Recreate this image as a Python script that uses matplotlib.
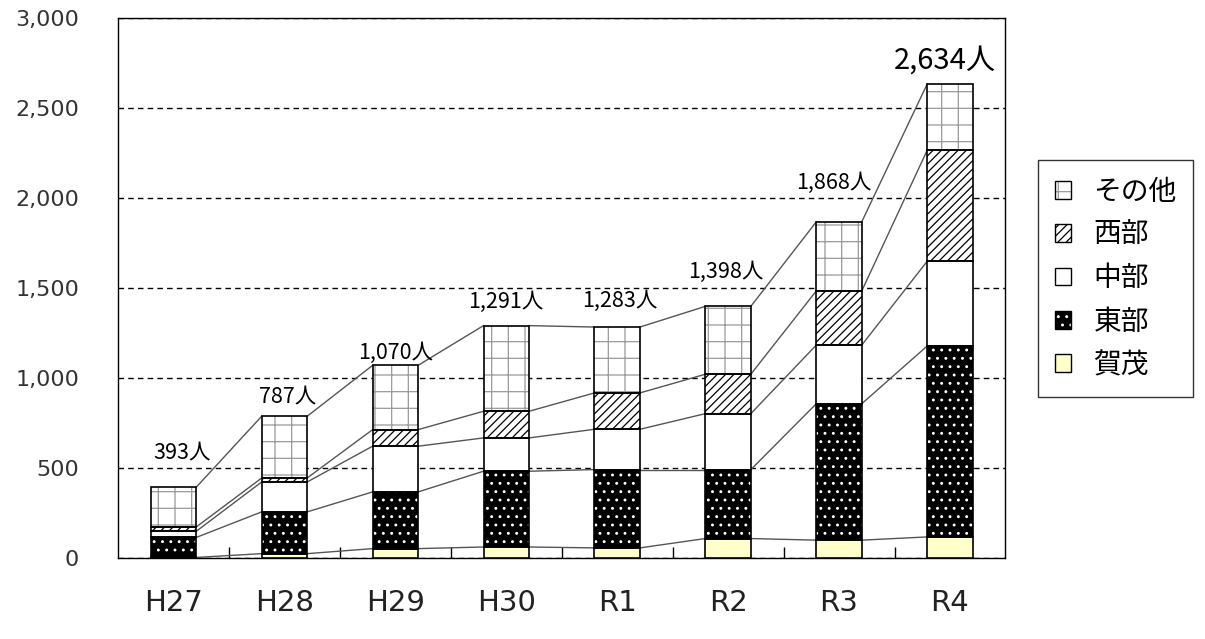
import numpy as np
import matplotlib
matplotlib.use("Agg")
import matplotlib.pyplot as plt
from matplotlib.patches import Patch

plt.rcParams['font.family'] = ['Noto Sans CJK JP', 'DejaVu Sans']
plt.rcParams['hatch.linewidth'] = 0.9

years = ['H27', 'H28', 'H29', 'H30', 'R1', 'R2', 'R3', 'R4']
kamo = [3, 24, 52, 61, 56, 108, 99, 117]
tobu = [111, 232, 315, 421, 435, 383, 758, 1061]
chubu = [34, 166, 254, 185, 224, 311, 326, 471]
seibu = [24, 22, 92, 148, 202, 219, 301, 617]
sonota = [221, 343, 357, 476, 366, 377, 384, 368]
totals = [393, 787, 1070, 1291, 1283, 1398, 1868, 2634]

names = ['賀茂', '東部', '中部', '西部', 'その他']
series = [kamo, tobu, chubu, seibu, sonota]
# face colour, hatch, hatch colour
styles = [('#FFFFCC', None, '#FFFFCC'),
          ('black', '..', 'white'),
          ('white', None, 'white'),
          ('white', '////', 'black'),
          ('white', '+', '#9a9a9a')]

# label offsets (points) above the bar tops
lab_dx = [6, 2, 0, 0, 2, -2, -4, -4]
lab_dy = [25, 14, 9, 17, 19, 25, 28, 17]
lab_fs = [15.5, 15.5, 15.5, 15.5, 15.5, 15.5, 15.5, 21]

fig = plt.figure(figsize=(12.05, 6.39), dpi=100)
ax = fig.add_axes([0.0979, 0.1268, 0.7365, 0.845])

x = np.arange(len(years))
w = 0.41
bottom = np.zeros(len(years))
tops = []
for vals, (fc, hatch, hc) in zip(series, styles):
    vals = np.array(vals, dtype=float)
    ax.bar(x, vals, w, bottom=bottom, color=fc, hatch=hatch,
           edgecolor=hc, linewidth=0, zorder=3)
    ax.bar(x, vals, w, bottom=bottom, fill=False,
           edgecolor='black', linewidth=1.2, zorder=4)
    bottom = bottom + vals
    tops.append(bottom.copy())

# series lines between bars
for t in tops:
    for i in range(len(years) - 1):
        ax.plot([x[i] + w / 2, x[i + 1] - w / 2], [t[i], t[i + 1]],
                color='#555555', lw=1, zorder=2)

for i, tot in enumerate(totals):
    ax.annotate(f'{tot:,}人', xy=(x[i], tot), xytext=(lab_dx[i], lab_dy[i]),
                textcoords='offset points', ha='center', va='center',
                fontsize=lab_fs[i])

ax.set_xlim(-0.5, len(years) - 0.5)
ax.set_ylim(0, 3000)
ax.set_yticks(np.arange(0, 3001, 500))
ax.set_yticklabels([f'{v:,}' for v in range(0, 3001, 500)],
                   fontsize=16, family='DejaVu Sans', color='#333333')
ax.set_xticks(x)
ax.set_xticklabels(years, fontsize=21, family='DejaVu Sans', color='#222222')
ax.set_xticks(np.arange(0.5, len(years) - 1, 1), minor=True)
ax.tick_params(axis='x', which='major', length=0, pad=22)
ax.tick_params(axis='x', which='minor', direction='in', length=8, width=1)
ax.tick_params(axis='y', length=0, pad=28)
ax.yaxis.grid(True, linestyle=(0, (4, 3)), color='black', lw=1)
ax.set_axisbelow(True)
for s in ax.spines.values():
    s.set_color('black')
    s.set_linewidth(1)

handles = []
for (fc, hatch, hc) in styles[::-1]:
    handles.append((Patch(facecolor=fc, hatch=hatch, edgecolor=hc, linewidth=0),
                    Patch(fill=False, edgecolor='black', linewidth=1)))
leg = fig.legend(handles, names[::-1], loc='upper left',
                 bbox_to_anchor=(1038 / 1205, 1 - 160 / 639),
                 fontsize=20, frameon=True, fancybox=False, edgecolor='black',
                 handlelength=0.6, handleheight=0.6, handletextpad=0.8,
                 labelspacing=0.48, borderpad=0.6, borderaxespad=0)
leg.get_frame().set_linewidth(1)

fig.savefig('out.png', dpi=100)
